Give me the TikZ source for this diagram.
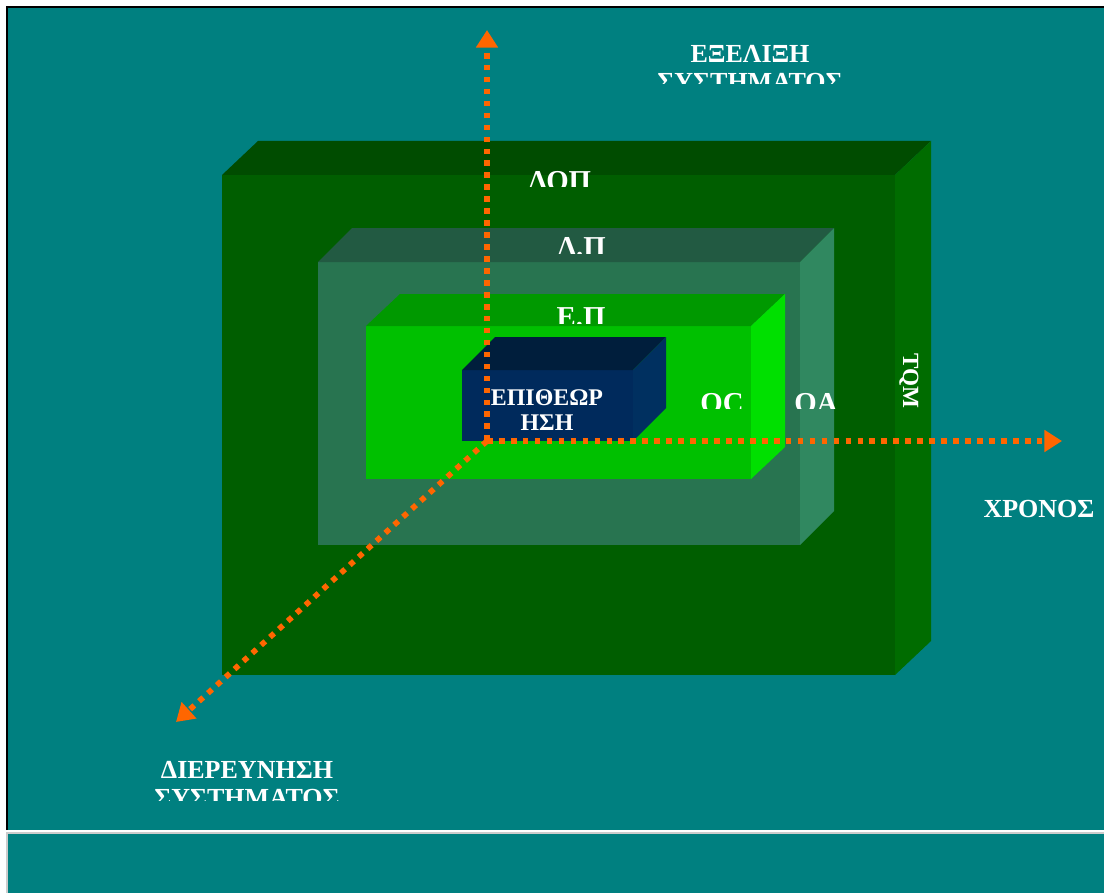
\documentclass[tikz,border=0pt]{standalone}
\usepackage{fontspec}
\setmainfont{Liberation Serif}
\usetikzlibrary{arrows.meta}
\definecolor{slidebg}{RGB}{0,128,128}
\definecolor{axisorange}{RGB}{255,102,0}
\definecolor{outertop}{RGB}{0,76,0}
\definecolor{outerfront}{RGB}{0,94,0}
\definecolor{outerside}{RGB}{0,108,0}
\definecolor{midtop}{RGB}{34,90,66}
\definecolor{midfront}{RGB}{40,116,80}
\definecolor{midside}{RGB}{48,136,96}
\definecolor{innertop}{RGB}{0,153,0}
\definecolor{innerfront}{RGB}{0,192,0}
\definecolor{innerside}{RGB}{0,224,0}
\definecolor{coretop}{RGB}{0,30,60}
\definecolor{corefront}{RGB}{0,42,92}
\definecolor{coreside}{RGB}{0,48,96}
\begin{document}
\begin{tikzpicture}[x=0.025cm,y=-0.025cm,line join=miter]
	\tikzset{lbl/.style={text=white,inner sep=0pt,anchor=base,font=\fontsize{18.5}{22}\selectfont\bfseries},
		boxlbl/.style={lbl,font=\fontsize{20.5}{24}\selectfont\bfseries},
		axis/.style={draw=axisorange,line width=4pt,line cap=butt,dash pattern=on 4pt off 4.5pt,
			-{Triangle[width=15pt,length=12.5pt,fill=axisorange]}}}
	\useasboundingbox (0,0) rectangle (1104,893);
	% slide panels
	\fill[white] (0,0) rectangle (1104,893);
	\fill[slidebg] (7,7) rectangle (1104,830);
	\draw[black,line width=1.2pt] (7,830)--(7,7)--(1104,7);
	\fill[slidebg] (7,833) rectangle (1104,893);
	\draw[gray!40,line width=0.8pt] (7,893)--(7,833)--(1104,833);
	% nested boxes: front corners, depth, colours
	\foreach \xa/\ya/\xb/\yb/\dx/\dy/\ct/\cf/\cs in {
		222/175/895/675/36/34/outertop/outerfront/outerside,
		318/262/800/545/34/34/midtop/midfront/midside,
		366/326/751/479/34/32/innertop/innerfront/innerside,
		462/370/633/441/33/33/coretop/corefront/coreside}
	{
		\fill[\cf] (\xa,\ya) rectangle (\xb,\yb);
		\fill[\ct] (\xa,\ya)--++(\dx,-\dy)--(\xb+\dx,\ya-\dy)--(\xb,\ya)--cycle;
		\fill[\cs] (\xb,\ya)--++(\dx,-\dy)--(\xb+\dx,\yb-\dy)--(\xb,\yb)--cycle;
	}
	% box labels, cut off at the bottom
	\begin{scope}
		\clip (400,150) rectangle (700,187);
		\node[boxlbl] (dop) at (560,191) {ΔΟΠ};
	\end{scope}
	\begin{scope}
		\clip (400,225) rectangle (700,253);
		\node[boxlbl] (dp) at (582,256) {Δ.Π};
	\end{scope}
	\begin{scope}
		\clip (400,290) rectangle (700,323);
		\node[boxlbl] (ep) at (581,326) {Ε.Π};
	\end{scope}
	\begin{scope}
		\clip (680,380) rectangle (880,408);
		\node[boxlbl] (qc) at (722,412) {QC};
		\node[boxlbl] (qa) at (816,412) {QA};
	\end{scope}
	\node[lbl,anchor=center,rotate=-90,font=\fontsize{16.5}{20}\selectfont\bfseries] (tqm) at (909,381) {TQM};
	\node[lbl,font=\fontsize{17}{20}\selectfont\bfseries] (insp1) at (547,405) {ΕΠΙΘΕΩΡ};
	\node[lbl,font=\fontsize{17}{20}\selectfont\bfseries] (insp2) at (547,430) {ΗΣΗ};
	% axis titles
	\node[lbl] (evol1) at (750,63) {ΕΞΕΛΙΞΗ};
	\begin{scope}
		\clip (600,66) rectangle (900,84);
		\node[lbl] (evol2) at (750,91) {ΣΥΣΤΗΜΑΤΟΣ};
	\end{scope}
	\node[lbl] (time) at (1039,517) {ΧΡΟΝΟΣ};
	\node[lbl] (probe1) at (247,778) {ΔΙΕΡΕΥΝΗΣΗ};
	\begin{scope}
		\clip (100,781) rectangle (400,800);
		\node[lbl] (probe2) at (247,806) {ΣΥΣΤΗΜΑΤΟΣ};
	\end{scope}
	% axes
	\coordinate (o) at (487,441);
	\coordinate (up) at (487,30);
	\coordinate (right) at (1062,441);
	\coordinate (diag) at (176,722);
	\draw[axis] (o)--(up);
	\draw[axis] (o)--(right);
	\draw[axis] (o)--(diag);
\end{tikzpicture}
\end{document}
